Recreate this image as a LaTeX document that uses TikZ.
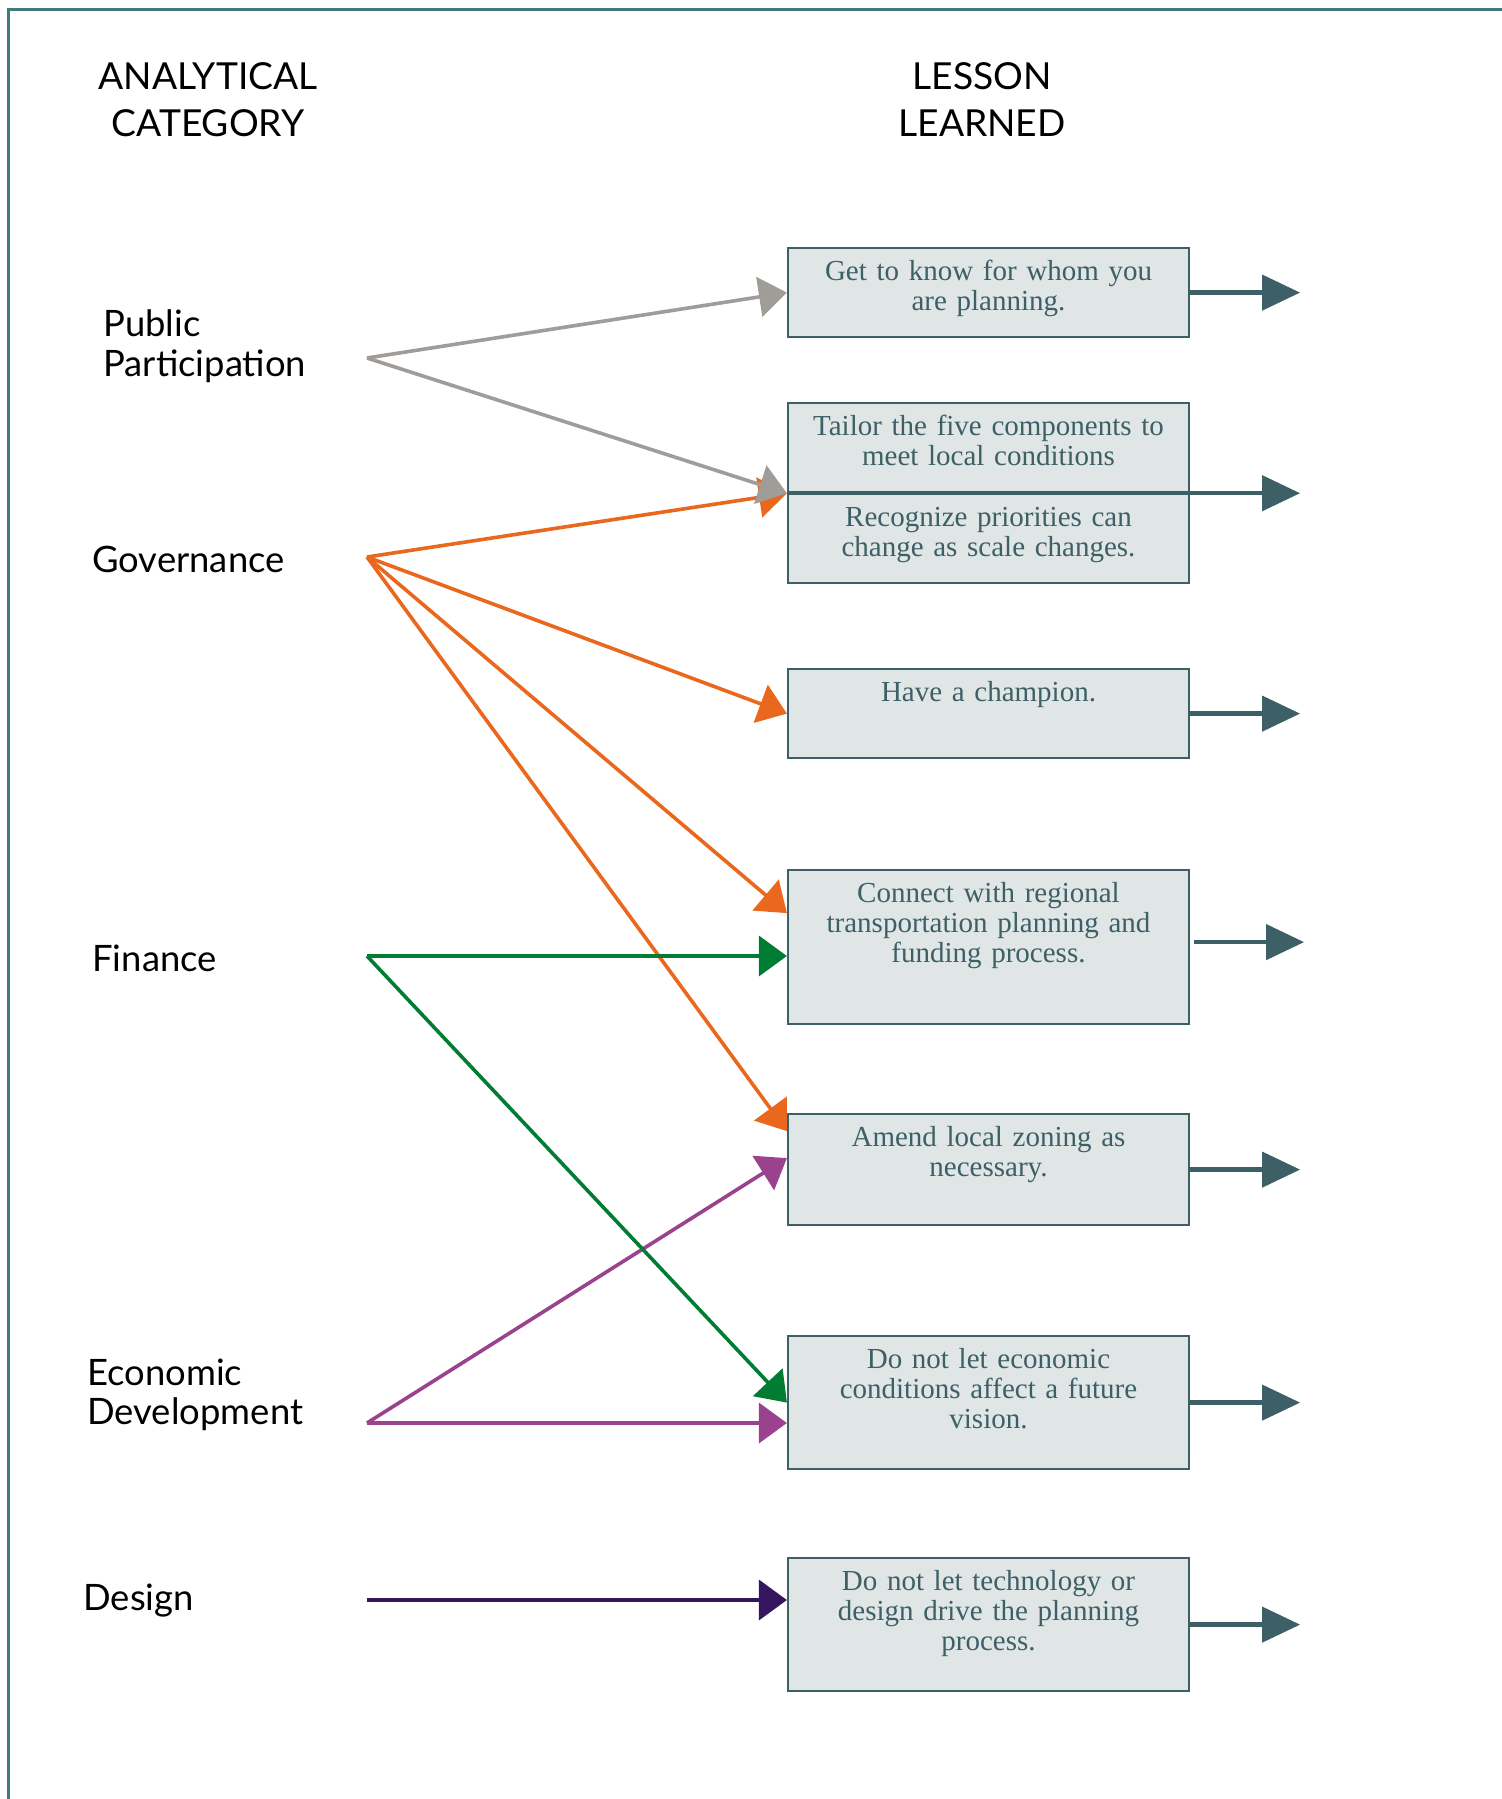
\documentclass[tikz,border=0pt]{standalone}
\usepackage{fontspec}
\setmainfont{Liberation Serif}
\newfontfamily\catfont{Lato}
\usetikzlibrary{arrows.meta, positioning, calc}

\definecolor{frameteal}{RGB}{64,122,122}
\definecolor{boxteal}{RGB}{61,95,102}
\definecolor{boxfill}{RGB}{224,230,230}
\definecolor{ppgray}{RGB}{160,156,152}
\definecolor{govorange}{RGB}{233,104,30}
\definecolor{fingreen}{RGB}{0,125,50}
\definecolor{econmagenta}{RGB}{155,66,142}
\definecolor{despurple}{RGB}{53,21,94}

\begin{document}
\begin{tikzpicture}[x=0.5pt,y=-0.5pt,
                    colhead/.style={font=\catfont\fontsize{18.6}{23.5}\selectfont,align=center},
                    category/.style={font=\catfont\fontsize{18.2}{19.8}\selectfont,align=left,anchor=west,inner sep=0pt},
                    lesson/.style={draw=boxteal,line width=1.1pt,fill=boxfill,anchor=north,
                      text=boxteal,font=\fontsize{14.5}{15}\selectfont,align=center,
                      text width=190pt,inner xsep=5.25pt,inner ysep=6pt,text height=10pt,text depth=#1},
                    catarrow/.style={line width=1.8pt,-{Triangle[length=14pt,width=20pt]}},
                    onward/.style={color=boxteal,line width=2.2pt,-{Triangle[length=19pt,width=17.5pt]}}]

  \useasboundingbox (0,0) rectangle (1502,1799);
  \draw[frameteal,line width=1.5pt] (8,1799) -- (8,9) -- (1502,9);

  \node[colhead] (hcat) at (208,100) {ANALYTICAL\\CATEGORY};
  \node[colhead] (hlesson) at (982,100) {LESSON\\LEARNED};

  \node[category] (pp) at (103,346) {Public\\Participation};
  \node[category] (gov) at (92,559) {Governance};
  \node[category] (fin) at (92,958) {Finance};
  \node[category] (econ) at (87,1395) {Economic\\Development};
  \node[category] (des) at (83,1601) {Design};

  \coordinate (ppsrc) at (367,358);
  \coordinate (govsrc) at (367,557);
  \coordinate (finsrc) at (367,956);
  \coordinate (econsrc) at (367,1423);
  \coordinate (dessrc) at (367,1600);

  \node[lesson=22.5pt] (b1) at (988.5,247) {Get to know for whom you\\are planning.};
  \node[lesson=22.5pt] (b2a) at (988.5,402) {Tailor the five components to\\meet local conditions};
  \node[lesson=22.5pt] (b2b) [below=0pt of b2a] {Recognize priorities can\\change as scale changes.};
  \node[lesson=22.5pt] (b3) at (988.5,668) {Have a champion.};
  \node[lesson=55pt] (b4) at (988.5,869) {Connect with regional\\transportation planning and\\funding process.};
  \node[lesson=33.5pt] (b5) at (988.5,1113) {Amend local zoning as\\necessary.};
  \node[lesson=44.5pt] (b6) at (988.5,1335) {Do not let economic\\conditions affect a future\\vision.};
  \node[lesson=44.5pt] (b7) at (988.5,1557) {Do not let technology or\\design drive the planning\\process.};

  \path[catarrow,color=govorange]
    (govsrc) edge (b2a.south west)
    (govsrc) edge (b3.west)
    (govsrc) edge ([yshift=17pt]b4.west)
    (govsrc) edge ([yshift=19.25pt]b5.west);

  \path[catarrow,color=ppgray]
    (ppsrc) edge (b1.west)
    (ppsrc) edge (b2a.south west);

  \path[catarrow,color=econmagenta]
    (econsrc) edge ([yshift=5.75pt]b5.west)
    (econsrc) edge (econsrc -| b6.west);

  \path[catarrow,color=fingreen]
    (finsrc) edge (finsrc -| b4.west)
    (finsrc) edge (b6.west);

  \path[catarrow,color=despurple]
    (dessrc) edge (dessrc -| b7.west);

  \path[onward]
    (b1.east) edge ++(110,0)
    (b2a.south east) edge ++(110,0)
    (b3.east) edge ++(110,0)
    ([xshift=2pt,yshift=2.5pt]b4.east) edge ++(110,0)
    (b5.east) edge ++(110,0)
    (b6.east) edge ++(110,0)
    (b7.east) edge ++(110,0);

\end{tikzpicture}
\end{document}
